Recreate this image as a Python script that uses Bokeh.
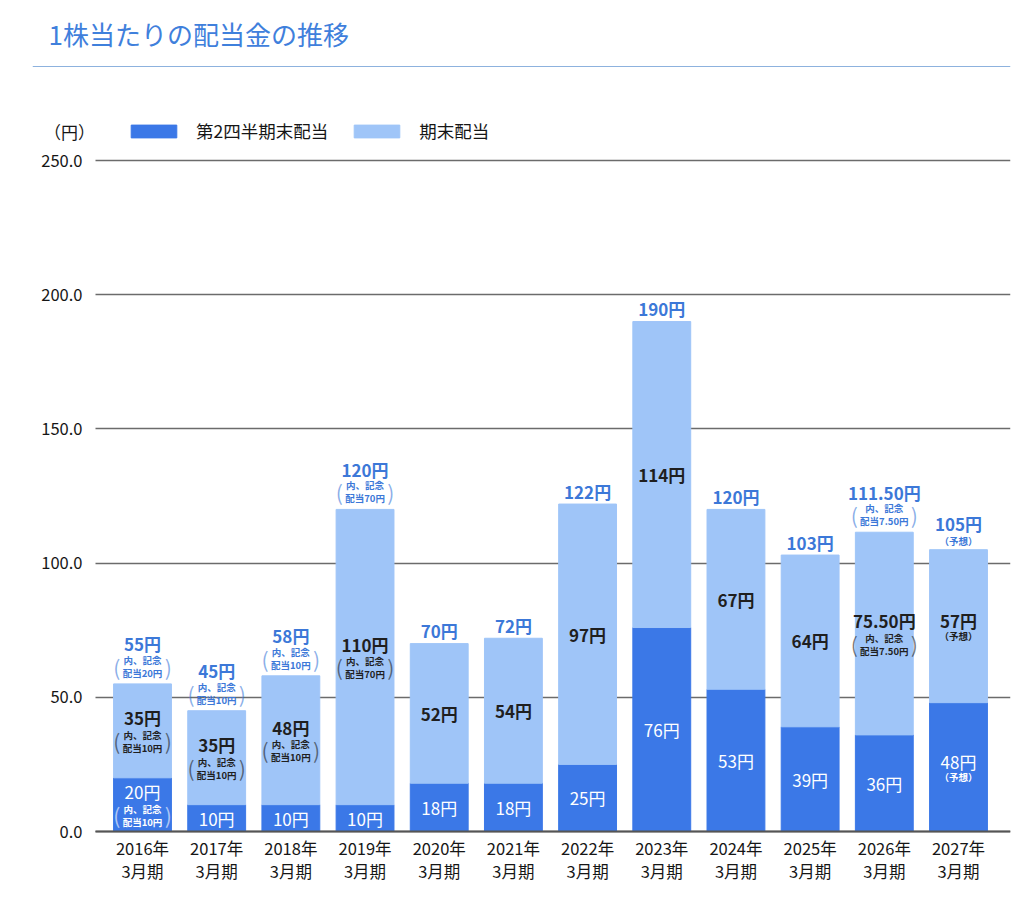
from bokeh.plotting import figure
from bokeh.models import ColumnDataSource, FixedTicker, Range1d, NumeralTickFormatter
from bokeh.embed import file_html
from bokeh.resources import INLINE
from bokeh.core.properties import value

# ---------------- data ----------------
periods = ["2016年\n3月期", "2017年\n3月期", "2018年\n3月期", "2019年\n3月期",
           "2020年\n3月期", "2021年\n3月期", "2022年\n3月期", "2023年\n3月期",
           "2024年\n3月期", "2025年\n3月期", "2026年\n3月期", "2027年\n3月期"]
interim = [20, 10, 10, 10, 18, 18, 25, 76, 53, 39, 36, 48]
final = [35, 35, 48, 110, 52, 54, 97, 114, 67, 64, 75.5, 57]

total_labels = ["55円", "45円", "58円", "120円", "70円", "72円", "122円", "190円",
                "120円", "103円", "111.50円", "105円"]
interim_labels = ["20円", "10円", "10円", "10円", "18円", "18円", "25円", "76円",
                  "53円", "39円", "36円", "48円"]
final_labels = ["35円", "35円", "48円", "110円", "52円", "54円", "97円", "114円",
                "67円", "64円", "75.50円", "57円"]

total_notes = ["内、記念\n配当20円", "内、記念\n配当10円", "内、記念\n配当10円", "内、記念\n配当70円",
               "", "", "", "", "", "", "内、記念\n配当7.50円", "（予想）"]
final_notes = ["内、記念\n配当10円", "内、記念\n配当10円", "内、記念\n配当10円", "内、記念\n配当70円",
               "", "", "", "", "", "", "内、記念\n配当7.50円", "（予想）"]
interim_notes = ["内、記念\n配当10円", "", "", "", "", "", "", "", "", "", "", "（予想）"]

series_names = ["第2四半期末配当", "期末配当"]
y_ticks = [0, 50, 100, 150, 200, 250]
title_text = "1株当たりの配当金の推移"
unit_text = "（円）"

# ---------------- style / layout ----------------
FONT = "Noto Sans CJK JP"
DARK = "#3b78e7"
LIGHT = "#9fc5f8"
BLUE_TXT = "#3c78d8"
INK = "#1f1f1f"
AXIS_TXT = "#161616"

ORIGIN = 0  # page offset of the figure (observed)
W, H = 1016, 898
MB_LEFT, MB_RIGHT, MB_TOP, MB_BOTTOM = 32, 6, 0, 0
# page-pixel anchors of the value scale
PX_ZERO, PX_250 = 831, 160
PX_FIRST, PX_LAST = 142, 958
PX_PLOT_LEFT = 95

n = len(periods)
xs = list(range(n))
ppu_y = (PX_ZERO - PX_250) / 250.0
ppu_x = (PX_LAST - PX_FIRST) / (n - 1)


def dx(page_x):
    return (page_x - PX_FIRST) / ppu_x


def dy(page_y):
    return (PX_ZERO - page_y) / ppu_y


frame_left_px = ORIGIN + MB_LEFT
frame_right_px = ORIGIN + W - MB_RIGHT
frame_top_px = ORIGIN + MB_TOP
frame_bottom_px = ORIGIN + H - MB_BOTTOM

p = figure(width=W, height=H,
           x_range=Range1d(dx(frame_left_px), dx(frame_right_px)),
           y_range=Range1d(dy(frame_bottom_px), dy(frame_top_px)),
           toolbar_location=None, output_backend="svg",
           min_border_left=MB_LEFT, min_border_right=MB_RIGHT,
           min_border_top=MB_TOP, min_border_bottom=MB_BOTTOM)
p.outline_line_color = None
p.xgrid.visible = False
p.ygrid.ticker = FixedTicker(ticks=y_ticks)
p.ygrid.grid_line_color = "#6b6b6b"
p.ygrid.grid_line_width = 1.5
p.ygrid.cross_bounds = (dx(PX_PLOT_LEFT), dx(frame_right_px))

p.yaxis.fixed_location = dx(PX_PLOT_LEFT)
p.yaxis.ticker = FixedTicker(ticks=y_ticks)
p.yaxis.formatter = NumeralTickFormatter(format="0.0")
p.yaxis.axis_line_color = None
p.yaxis.major_tick_line_color = None
p.yaxis.minor_tick_line_color = None
p.yaxis.major_label_standoff = 7
p.yaxis.major_label_text_font = FONT
p.yaxis.major_label_text_font_size = "16.5px"
p.yaxis.major_label_text_color = AXIS_TXT

p.xaxis.fixed_location = 0
p.xaxis.ticker = FixedTicker(ticks=xs)
p.xaxis.major_label_overrides = {i: lab for i, lab in zip(xs, periods)}
p.xaxis.axis_line_color = "#555555"
p.xaxis.axis_line_width = 2
p.xaxis.bounds = (dx(PX_PLOT_LEFT), dx(frame_right_px))
p.xaxis.major_tick_line_color = None
p.xaxis.minor_tick_line_color = None
p.xaxis.major_label_standoff = -2
p.xaxis.major_label_text_font = FONT
p.xaxis.major_label_text_font_size = "16.5px"
p.xaxis.major_label_text_color = AXIS_TXT
p.xaxis.major_label_text_line_height = 0.97

# header
p.text(x=[dx(48)], y=[dy(33)], text=[title_text], text_font=value(FONT),
       text_font_size="26px", text_color="#3f80dc", text_baseline="middle", text_align="left")
p.hspan(y=[dy(66)], line_color="#8db2de", line_width=1)
p.text(x=[dx(69)], y=[dy(131)], text=[unit_text], text_font=value(FONT),
       text_font_size="17px", text_color=AXIS_TXT, text_baseline="middle", text_align="center")

# bars
src = ColumnDataSource(dict(x=xs, interim=interim, final=final))
p.vbar_stack(["interim", "final"], x="x", width=0.78, color=[DARK, LIGHT], source=src,
             legend_label=series_names)

lg = p.legend[0]
lg.location = (130 - frame_left_px - 5, frame_bottom_px - 143)
lg.orientation = "horizontal"
lg.glyph_width = 57
lg.glyph_height = 16
lg.label_standoff = 14
lg.spacing = 20
lg.padding = 0
lg.margin = 0
lg.border_line_color = None
lg.background_fill_alpha = 0
lg.label_text_font = FONT
lg.label_text_font_size = "17.5px"
lg.label_text_color = AXIS_TXT


def em_width(s):
    w = 0.0
    for ch in s:
        if ch == ".":
            w += 0.27
        elif ord(ch) < 128:
            w += 0.57
        else:
            w += 1.0
    return w


def add_group(ys, mains, notes, mode, main_color, note_color, main_style):
    main = dict(x=[], y=[], t=[], off=[])
    note = dict(x=[], y=[], t=[], off=[])
    par = dict(x=[], y=[], t=[], off=[], xoff=[])
    for x, y, m, nt in zip(xs, ys, mains, notes):
        lines = [s for s in nt.split("\n") if s] if nt else []
        if mode == "top":
            if len(lines) == 0:
                mo, lo, po = -13, [], None
            elif len(lines) == 1:
                mo, lo, po = -26, [-9], None
            else:
                mo, lo, po = -40, [-24, -11], -17
        else:
            if len(lines) == 0:
                mo, lo, po = 0, [], None
            elif len(lines) == 1:
                mo, lo, po = -6, [10], None
            else:
                mo, lo, po = -13, [4, 17], 10
        main["x"].append(x); main["y"].append(y); main["t"].append(m); main["off"].append(mo)
        for s, o in zip(lines, lo):
            note["x"].append(x); note["y"].append(y); note["t"].append(s); note["off"].append(o)
        if po is not None:
            half = max(em_width(s) for s in lines) * 10 / 2 + 5
            for t, xo in (("(", -half), (")", half)):
                par["x"].append(x); par["y"].append(y); par["t"].append(t)
                par["off"].append(po); par["xoff"].append(xo)
    p.text(x="x", y="y", text="t", y_offset="off", source=ColumnDataSource(main),
           text_font=value(FONT), text_font_size="17px", text_font_style=main_style,
           text_color=main_color, text_align="center", text_baseline="middle")
    p.text(x="x", y="y", text="t", y_offset="off", source=ColumnDataSource(note),
           text_font=value(FONT), text_font_size="9.5px", text_font_style="bold",
           text_color=note_color, text_align="center", text_baseline="middle")
    if par["x"]:
        p.text(x="x", y="y", text="t", y_offset="off", x_offset="xoff", source=ColumnDataSource(par),
               text_font=value(FONT), text_font_size="21px",
               text_color=note_color, text_alpha=0.6, text_align="center", text_baseline="middle")


add_group([a + b for a, b in zip(interim, final)], total_labels, total_notes, "top",
          BLUE_TXT, BLUE_TXT, "bold")
add_group([a + b / 2 for a, b in zip(interim, final)], final_labels, final_notes, "mid",
          INK, INK, "bold")
add_group([a / 2 for a in interim], interim_labels, interim_notes, "mid",
          "white", "white", "normal")

open("out.html", "w").write(file_html(p, INLINE))
